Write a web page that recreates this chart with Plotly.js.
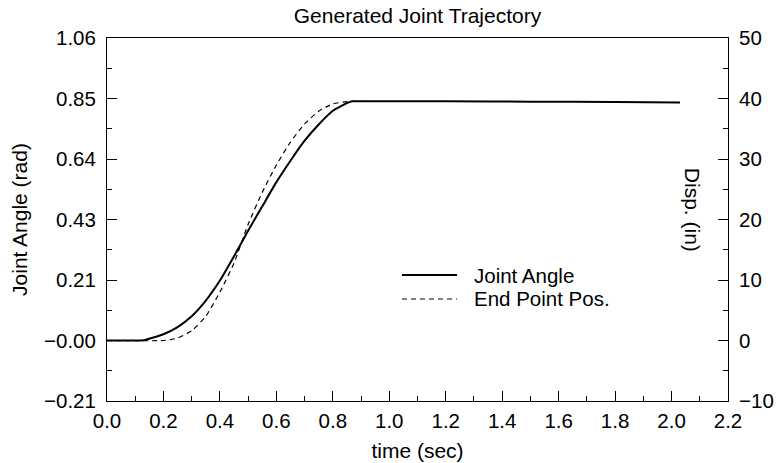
<!DOCTYPE html>
<html>
<head>
<meta charset="utf-8">
<script src="https://cdn.plot.ly/plotly-3.0.1.min.js"></script>
<style>html,body{margin:0;padding:0;background:#fff;}#chart{width:776px;height:463px;}</style>
</head>
<body>
<div id="chart"></div>
<script>
// Joint angle (rad), left axis
const timeAngle = [0, 0.1, 0.13, 0.2, 0.25, 0.3, 0.35, 0.4, 0.45, 0.5, 0.55, 0.6, 0.65, 0.7, 0.75, 0.8, 0.85, 0.87, 1.0, 1.2, 1.5, 1.8, 2.03];
const jointAngle = [0, 0, 0.001, 0.022, 0.047, 0.085, 0.14, 0.21, 0.295, 0.385, 0.47, 0.555, 0.63, 0.70, 0.757, 0.805, 0.832, 0.838, 0.838, 0.838, 0.837, 0.836, 0.834];
// End point displacement (in), right axis
const timeDisp = [0, 0.2, 0.25, 0.3, 0.35, 0.4, 0.45, 0.5, 0.55, 0.6, 0.65, 0.7, 0.75, 0.8, 0.85, 0.92];
const endPointDisp = [0, 0, 0.4, 1.6, 4.0, 8.0, 12.8, 19.2, 24.5, 29.0, 32.8, 35.8, 37.9, 39.1, 39.5, 39.5];

const leftTickVals = [-0.212, 0, 0.212, 0.424, 0.636, 0.848, 1.06];
const leftTickText = ["\u22120.21", "\u22120.00", "0.21", "0.43", "0.64", "0.85", "1.06"];
const leftMinorVals = [-0.106, 0.106, 0.318, 0.53, 0.742, 0.954];

const seriesNames = ["Joint Angle", "End Point Pos."];

const font = "Liberation Sans, Arial, sans-serif";
const fs = 20.5;
const fsTitle = 21;

const traces = [
  {x: timeAngle, y: jointAngle, type: "scatter", mode: "lines", name: seriesNames[0],
   line: {color: "#000", width: 2, shape: "spline", smoothing: 0.5}, yaxis: "y", showlegend: false},
  {x: timeDisp, y: endPointDisp, type: "scatter", mode: "lines", name: seriesNames[1],
   line: {color: "#000", width: 1.2, dash: "5px,4px", shape: "spline", smoothing: 0.5}, yaxis: "y2", showlegend: false}
];

const layout = {
  width: 776, height: 463,
  margin: {l: 107, r: 48, t: 38, b: 62},
  paper_bgcolor: "#fff", plot_bgcolor: "#fff",
  font: {family: font, size: fs, color: "#000"},
  title: {text: "Generated Joint Trajectory", font: {family: font, size: fsTitle, color: "#000"},
          x: 0.5, xref: "paper", y: 0.966, yanchor: "middle"},
  xaxis: {range: [0, 2.2], tickmode: "linear", tick0: 0, dtick: 0.2, tickformat: ".1f",
          ticks: "inside", ticklen: 10, tickwidth: 1, tickcolor: "#000",
          minor: {dtick: 0.1, tick0: 0, ticks: "inside", ticklen: 5, tickcolor: "#000", showgrid: false},
          showline: true, linecolor: "#000", linewidth: 1, mirror: true,
          showgrid: false, zeroline: false, ticklabelstandoff: 1,
          title: {text: "time (sec)", font: {family: font, size: fsTitle}, standoff: 12}},
  yaxis: {range: [-0.212, 1.06], tickmode: "array", tickvals: leftTickVals, ticktext: leftTickText,
          ticks: "inside", ticklen: 10, tickwidth: 1, tickcolor: "#000",
          minor: {tickvals: leftMinorVals, ticks: "inside", ticklen: 5, tickcolor: "#000", showgrid: false},
          showline: true, linecolor: "#000", linewidth: 1, ticklabelstandoff: 6,
          showgrid: false, zeroline: false,
          title: {text: "Joint Angle (rad)", font: {family: font, size: fsTitle}, standoff: 10}},
  yaxis2: {range: [-10, 50], overlaying: "y", side: "right", tickmode: "linear", tick0: 0, dtick: 10,
           ticks: "inside", ticklen: 10, tickwidth: 1, tickcolor: "#000",
           minor: {dtick: 5, tick0: 0, ticks: "inside", ticklen: 5, tickcolor: "#000", showgrid: false},
           showline: true, linecolor: "#000", linewidth: 1, ticklabelstandoff: 6,
           showgrid: false, zeroline: false},
  showlegend: false,
  shapes: [
    {type: "line", xref: "paper", yref: "paper", x0: 0.475, x1: 0.5636, y0: 0.347, y1: 0.347,
     line: {color: "#000", width: 2}},
    {type: "line", xref: "paper", yref: "paper", x0: 0.475, x1: 0.5636, y0: 0.281, y1: 0.281,
     line: {color: "#000", width: 1.2, dash: "5px,4px"}}
  ],
  annotations: [
    {text: seriesNames[0], xref: "paper", yref: "paper", x: 0.588, y: 0.347, xanchor: "left", yanchor: "middle",
     showarrow: false, font: {family: font, size: fs, color: "#000"}},
    {text: seriesNames[1], xref: "paper", yref: "paper", x: 0.588, y: 0.281, xanchor: "left", yanchor: "middle",
     showarrow: false, font: {family: font, size: fs, color: "#000"}},
    {text: "Disp. (in)", xref: "paper", yref: "paper", x: 0.944, y: 0.526, xanchor: "center", yanchor: "middle",
     textangle: 90, showarrow: false, font: {family: font, size: fsTitle, color: "#000"}}
  ]
};

Plotly.newPlot("chart", traces, layout, {displayModeBar: false, staticPlot: true});
</script>
</body>
</html>
